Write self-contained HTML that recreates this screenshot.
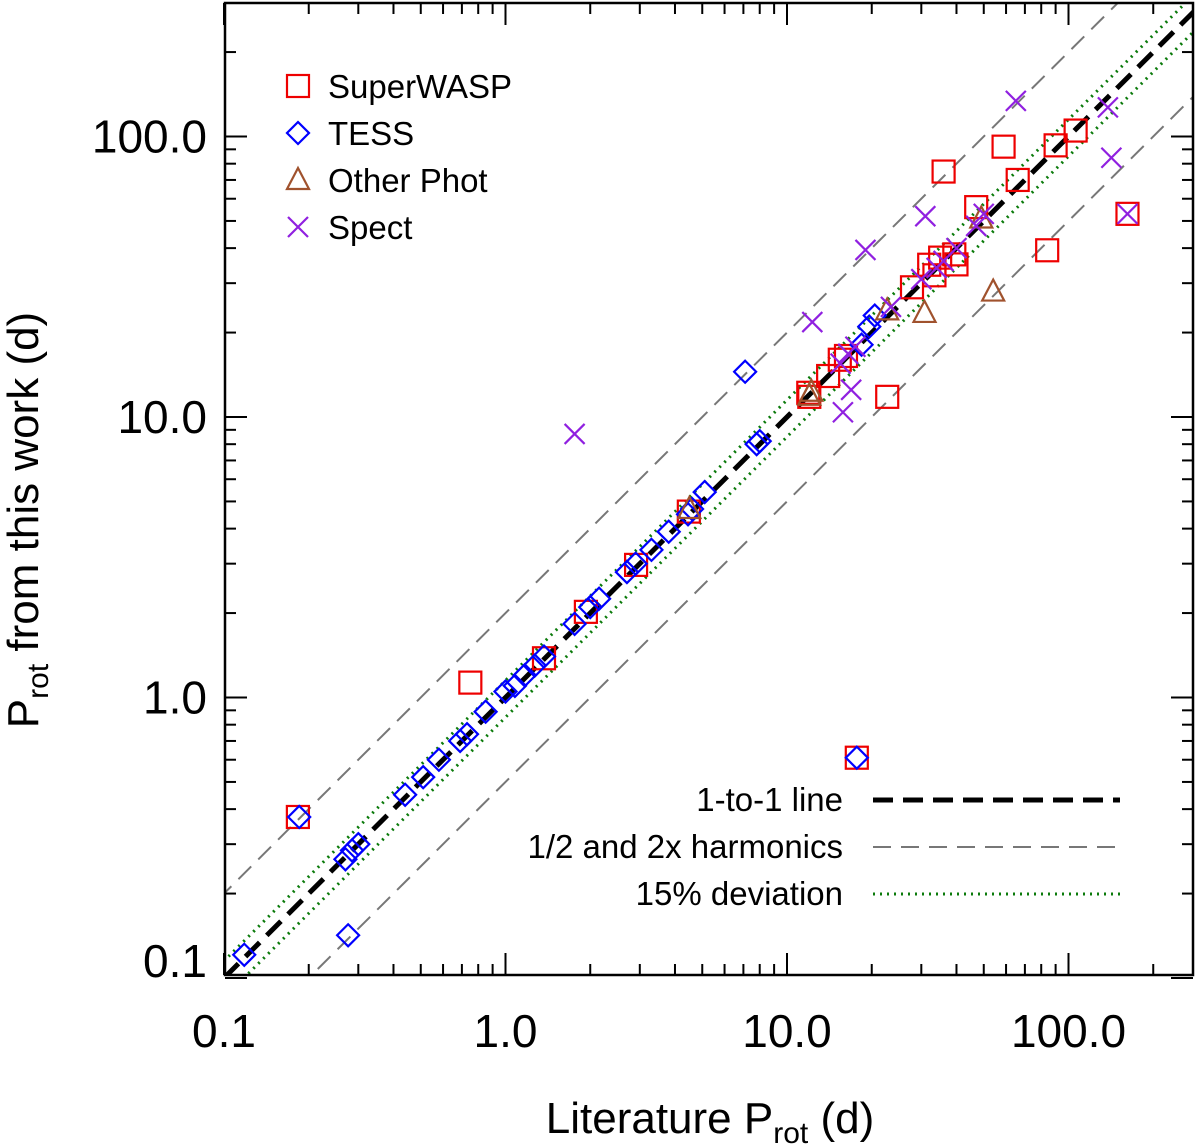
<!DOCTYPE html>
<html><head><meta charset="utf-8"><style>
body{margin:0;background:#fff;}
svg{display:block;font-family:"Liberation Sans",sans-serif;}
</style></head><body>
<svg id="chart" width="1200" height="1148" viewBox="0 0 1200 1148" xmlns="http://www.w3.org/2000/svg">
<defs><clipPath id="clip"><rect x="225" y="3" width="968" height="972"/></clipPath></defs>
<g id="lines" clip-path="url(#clip)"></g>
<g id="marks" clip-path="url(#clip)"></g>
<g id="axes"></g>
<text x="710" y="1133" font-size="44" text-anchor="middle">Literature P<tspan font-size="30" dy="10">rot</tspan><tspan dy="-10"> (d)</tspan></text>
<text transform="translate(38,520) rotate(-90)" font-size="44" text-anchor="middle">P<tspan font-size="30" dy="10">rot</tspan><tspan dy="-10"> from this work (d)</tspan></text>
<g id="legend"></g>
</svg>
<script>
const ns="http://www.w3.org/2000/svg";
const swX=[0.183,0.75,1.37,1.93,2.91,4.48,11.9,12.0,14,15.4,16.2,22.7,27.8,32,33.4,35,36,39.3,40,47,58.8,66,84,90,106,162,17.7];
const swY=[0.375,1.13,1.38,2.02,2.97,4.6,12.2,11.8,14,16,16.5,11.8,29,34.9,32,37,75,38,35,56,92,70,39.3,93,105,53,0.61];
const tsX=[0.118,0.185,0.276,0.27,0.285,0.3,0.44,0.51,0.58,0.69,0.73,0.85,1.0,1.08,1.17,1.27,1.37,1.76,2.0,2.15,2.7,2.9,3.3,3.8,4.45,4.6,5.1,7.1,7.8,8.0,17.7,18.4,19.6,20.5];
const tsY=[0.121,0.375,0.142,0.265,0.285,0.3,0.45,0.52,0.6,0.7,0.74,0.89,1.05,1.1,1.2,1.3,1.4,1.83,2.1,2.25,2.8,3.0,3.36,3.9,4.5,4.7,5.4,14.5,8.0,8.2,0.61,18.1,21,23];
const opX=[4.5,12,22.7,30.8,54,49,12.2];
const opY=[4.7,11.9,24,23.5,28,51,12.3];
const spX=[1.76,12.3,15.8,16.9,19,15.5,16.5,17.5,23.4,31,36,40,47,50,65,138,142,162,30,34];
const spY=[8.7,21.8,10.4,12.5,39.4,15.5,16.8,17.8,24.7,52,36,40,48,53,134,127,84,53,31,34];
const xTicks=[0.1,1,10,100], xTickLabels=["0.1","1.0","10.0","100.0"];
const yTicks=[0.1,1,10,100], yTickLabels=["0.1","1.0","10.0","100.0"];
const L=225,R=1193,T=3,B=975;
const X=v=>224+281.5*(Math.log10(v)+1);
const Y=v=>978-280.5*(Math.log10(v)+1);
function el(tag,attrs,parent){const e=document.createElementNS(ns,tag);for(const k in attrs)e.setAttribute(k,attrs[k]);parent.appendChild(e);return e;}
const lines=document.getElementById('lines'),marks=document.getElementById('marks'),axes=document.getElementById('axes'),legend=document.getElementById('legend');
function refLine(f,st,name){const a=0.05,b=500;const e=el('line',Object.assign({x1:X(a),y1:Y(a*f),x2:X(b),y2:Y(b*f),fill:'none'},st),lines);

}
refLine(2,{stroke:'#777','stroke-width':2,'stroke-dasharray':'18,10'},'harmonic-2x-line');
refLine(0.5,{stroke:'#777','stroke-width':2,'stroke-dasharray':'18,10'},'harmonic-half-line');
refLine(1.15,{stroke:'#0a7a0a','stroke-width':3,'stroke-dasharray':'2,5'},'deviation-upper-line');
refLine(0.85,{stroke:'#0a7a0a','stroke-width':3,'stroke-dasharray':'2,5'},'deviation-lower-line');
refLine(1,{stroke:'#000','stroke-width':5,'stroke-dasharray':'20,10'},'one-to-one-line');
function sq(x,y,p){return el('rect',{x:x-11,y:y-11,width:22,height:22,fill:'none',stroke:'#e00','stroke-width':2.2},p);}
function dm(x,y,p){return el('path',{d:`M${x},${y-11}L${x+11},${y}L${x},${y+11}L${x-11},${y}Z`,fill:'none',stroke:'#00f','stroke-width':2.2},p);}
function tr(x,y,p){return el('path',{d:`M${x},${y-12}L${x+11},${y+9}L${x-11},${y+9}Z`,fill:'none',stroke:'#a0522d','stroke-width':2.2},p);}
function cr(x,y,p){return el('path',{d:`M${x-10},${y-10}L${x+10},${y+10}M${x+10},${y-10}L${x-10},${y+10}`,fill:'none',stroke:'#9020e0','stroke-width':2.2},p);}
swX.forEach((v,i)=>{const e=sq(X(v),Y(swY[i]),marks);

});
tsX.forEach((v,i)=>{const e=dm(X(v),Y(tsY[i]),marks);

});
opX.forEach((v,i)=>{const e=tr(X(v),Y(opY[i]),marks);

});
spX.forEach((v,i)=>{const e=cr(X(v),Y(spY[i]),marks);

});
const fr=el('rect',{x:L,y:T,width:R-L,height:B-T,fill:'none',stroke:'#000','stroke-width':2.5},axes);


for(let d=0.1;d<1000;d*=10){for(let m=1;m<10;m++){const v=d*m;const len=m==1?22:11;
const xp=X(v);if(xp>=L-1&&xp<=R){el('line',{x1:xp,y1:B,x2:xp,y2:B-len,stroke:'#000','stroke-width':2},axes);el('line',{x1:xp,y1:T,x2:xp,y2:T+len,stroke:'#000','stroke-width':2},axes);}
const yp=Y(v);if(yp<=B+4&&yp>=T){el('line',{x1:L,y1:yp,x2:L+len,y2:yp,stroke:'#000','stroke-width':2},axes);el('line',{x1:R,y1:yp,x2:R-len,y2:yp,stroke:'#000','stroke-width':2},axes);}}}
xTicks.forEach((v,i)=>{const t=el('text',{x:X(v),y:1047,'font-size':46,'text-anchor':'middle'},axes);t.textContent=xTickLabels[i];

});
yTicks.forEach((v,i)=>{const t=el('text',{x:207,y:Math.min(Y(v),961)+16,'font-size':46,'text-anchor':'end'},axes);t.textContent=yTickLabels[i];

});
const items=[['SuperWASP',sq],['TESS',dm],['Other Phot',tr],['Spect',cr]];
items.forEach((it,i)=>{const y=86+i*47;it[1](298,y,legend);const t=el('text',{x:328,y:y+12,'font-size':33},legend);t.textContent=it[0];

});
const li=[['1-to-1 line',{stroke:'#000','stroke-width':5,'stroke-dasharray':'20,10'}],['1/2 and 2x harmonics',{stroke:'#777','stroke-width':2,'stroke-dasharray':'18,10'}],['15% deviation',{stroke:'#0a7a0a','stroke-width':3,'stroke-dasharray':'2,5'}]];
li.forEach((it,i)=>{const y=800+i*47;const t=el('text',{x:843,y:y+11,'font-size':33,'text-anchor':'end'},legend);t.textContent=it[0];


el('line',Object.assign({x1:873,y1:y,x2:1120,y2:y},it[1]),legend);});
</script>
</body></html>
